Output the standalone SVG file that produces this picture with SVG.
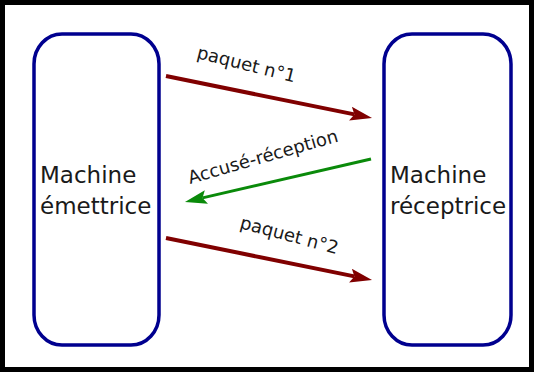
<svg xmlns="http://www.w3.org/2000/svg" width="534" height="372" viewBox="0 0 534 372">
<style>
.frame{fill:#fff;stroke:#000;stroke-width:5}
.node{fill:#fff;stroke:#00008f;stroke-width:3.5}
.lbl{font-family:"DejaVu Sans",sans-serif;font-size:23px;fill:#1a1a1a}
.elbl{font-family:"DejaVu Sans",sans-serif;font-size:18px;fill:#1a1a1a}
.red{stroke:#800000;stroke-width:4;fill:none}
.grn{stroke:#0a8a0a;stroke-width:3;fill:none}
</style>
<defs>
<marker id="hr" markerUnits="userSpaceOnUse" markerWidth="22" markerHeight="14" refX="4" refY="7" orient="auto" viewBox="0 0 22 14"><path d="M0,0 L22,7 L0,14 L4,7 z" fill="#800000"/></marker>
<marker id="hg" markerUnits="userSpaceOnUse" markerWidth="22" markerHeight="14" refX="4" refY="7" orient="auto" viewBox="0 0 22 14"><path d="M0,0 L22,7 L0,14 L4,7 z" fill="#0a8a0a"/></marker>
</defs>
<rect class="frame" x="2.5" y="2.5" width="529" height="367"/>
<g id="emettrice">
<rect class="node" x="34" y="34" width="125" height="311" rx="28" ry="30"/>
<text class="lbl" x="40" y="183">Machine</text>
<text class="lbl" x="40" y="214">émettrice</text>
</g>
<g id="receptrice">
<rect class="node" x="384" y="34" width="127" height="311" rx="28" ry="30"/>
<text class="lbl" x="390" y="183">Machine</text>
<text class="lbl" x="390" y="214">réceptrice</text>
</g>
<g id="connectors">
<line class="red" x1="166" y1="76" x2="354.4" y2="114.4" marker-end="url(#hr)"/>
<line class="grn" x1="371" y1="159" x2="202.5" y2="197.9" marker-end="url(#hg)"/>
<line class="red" x1="166" y1="238" x2="354.4" y2="276.4" marker-end="url(#hr)"/>
<text class="elbl" transform="translate(196,58) rotate(14)">paquet n°1</text>
<text class="elbl" transform="translate(190,184) rotate(-16)">Accusé-réception</text>
<text class="elbl" transform="translate(239,228) rotate(15)">paquet n°2</text>
</g>
</svg>
